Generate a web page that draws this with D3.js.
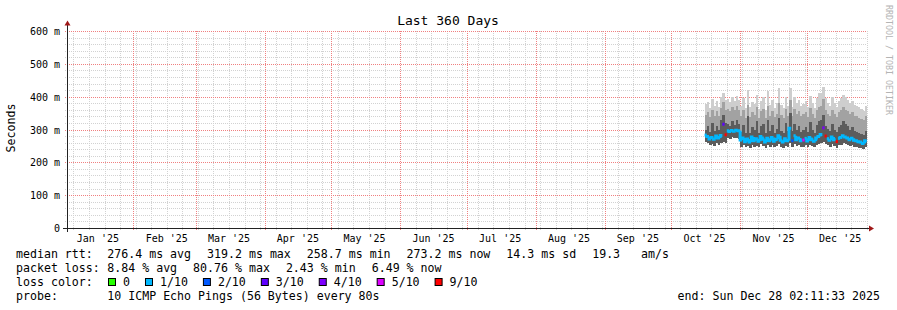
<!DOCTYPE html>
<html>
<head>
<meta charset="utf-8">
<script src="https://cdn.jsdelivr.net/npm/d3@7"></script>
<style>
body { margin: 0; background: #fff; }
text { font-family: 'DejaVu Sans Mono', monospace; fill: #000; white-space: pre; }
</style>
</head>
<body>
<script>
// ---- data ----
var firstDay = '2025-10-16';   // first day with samples, one value per day after that
var median = [283, 279, 271, 276, 270, 280, 274, 282,
    316, 284,
    296, 294, 297, 295, 298, 296,
    268, 274, 263, 271, 262, 277, 266, 272, 264, 279, 270, 262, 273, 266, 276, 264, 270, 281, 267, 262, 272, 266,
    304, 266,
    281, 269, 274, 266,
    268,
    273, 265, 276, 269, 264, 274, 279,
    285, 305, 280,
    272, 267, 277, 269,
    263,
    273, 276, 281, 277, 274, 269, 273, 267, 266, 263, 262, 257, 266];
var loss = [1, 1, 1, 1, 1, 1, 1, 1,
    3, 9,
    1, 1, 1, 1, 1, 1,
    1, 1, 1, 1, 1, 1, 1, 1, 1, 1, 1, 1, 1, 1, 1, 1, 1, 1, 1, 1, 1, 1,
    1, 2,
    1, 1, 1, 1,
    5,
    1, 1, 1, 1, 1, 1, 1,
    1, 4, 9,
    1, 1, 1, 1,
    9,
    1, 1, 1, 1, 1, 1, 1, 1, 1, 1, 1, 1, 1];
// smoke: lowest ping, 7th ping, 9th ping, highest ping (ms)
var pingLo = [262, 258, 252, 256, 250, 258, 254, 258,
    262, 258,
    274, 272, 276, 273, 275, 272,
    248, 252, 246, 250, 245, 254, 248, 251, 246, 255, 250, 245, 252, 248, 253, 246, 250, 256, 248, 245, 251, 247,
    258, 247,
    256, 250, 252, 248,
    248,
    252, 247, 254, 250, 246, 252, 256,
    260, 262, 256,
    252, 248, 255, 250,
    245,
    252, 254, 258, 256, 253, 250, 252, 248, 246, 244, 243, 240, 246];
var pingMid = [300, 310, 292, 320, 296, 312, 298, 330,
    345, 320,
    318, 312, 325, 315, 330, 318,
    292, 315, 288, 340, 290, 308, 300, 325, 288, 312, 318, 288, 330, 294, 315, 290, 302, 335, 296, 288, 320, 294,
    350, 294,
    318, 300, 312, 292,
    300,
    308, 292, 322, 300, 290, 315, 325,
    330, 345, 312,
    302, 294, 318, 300,
    292,
    308, 315, 325, 316, 310, 300, 308, 296, 292, 290, 286, 282, 296];
var pingUp = [345, 352, 338, 360, 342, 355, 340, 365,
    385, 360,
    362, 355, 368, 358, 372, 360,
    340, 358, 335, 375, 338, 352, 345, 368, 336, 355, 362, 334, 372, 342, 356, 338, 348, 380, 344, 336, 362, 342,
    390, 340,
    362, 348, 355, 340,
    346,
    352, 338, 365, 348, 336, 358, 368,
    372, 392, 358,
    348, 340, 360, 346,
    338,
    352, 358, 368, 360, 355, 346, 352, 342, 340, 336, 332, 328, 340];
var pingHi = [378, 385, 365, 392, 372, 388, 370, 398,
    410, 390,
    392, 385, 398, 388, 402, 390,
    372, 395, 365, 420, 368, 385, 378, 405, 362, 388, 398, 360, 418, 375, 390, 366, 380, 425, 376, 365, 398, 372,
    425, 370,
    400, 382, 390, 372,
    378,
    386, 368, 402, 380, 366, 395, 410,
    412, 430, 395,
    382, 372, 398, 380,
    370,
    388, 395, 405, 398, 390, 380, 388, 376, 372, 368, 362, 356, 372];

var lossLevels = [0, 1, 2, 3, 4, 5, 9];
var lossLabels = ['0', '1/10', '2/10', '3/10', '4/10', '5/10', '9/10'];
var lossColors = ['#26ff00', '#00b8ff', '#0059ff', '#5e00ff', '#7e00ff', '#dd00ff', '#ff0000'];
var smokeColors = ['#cecece', '#a2a2a2', '#5c5c5c'];

var monthLabels = ["Jan '25", "Feb '25", "Mar '25", "Apr '25", "May '25", "Jun '25",
    "Jul '25", "Aug '25", "Sep '25", "Oct '25", "Nov '25", "Dec '25"];
var yTicks = [0, 100, 200, 300, 400, 500, 600];
var yTickLabels = ['0', '100 m', '200 m', '300 m', '400 m', '500 m', '600 m'];

var rttItems = ['276.4 ms avg', '319.2 ms max', '258.7 ms min', '273.2 ms now', '14.3 ms sd', '19.3   am/s'];
var lossItems = ['8.84 % avg', '80.76 % max', '2.43 % min', '6.49 % now'];
var probeText = '10 ICMP Echo Pings (56 Bytes) every 80s';
var endText = 'end: Sun Dec 28 02:11:33 2025';
var titleText = 'Last 360 Days';

// ---- setup ----
var w = 897,
    h = 310;
var plotLeft = 67,
    plotRight = 867,
    plotTop = 31,
    plotBottom = 228;
var minorColor = '#d2d2d2',
    majorColor = '#f08080';

var svg = d3.select('body')
    .append('svg')
    .attr('width', w)
    .attr('height', h)
    .style('display', 'block');

svg.append('rect')
    .attr('width', w)
    .attr('height', h)
    .attr('fill', '#fff');

var tEnd = new Date(Date.UTC(2025, 11, 28, 2, 11, 33));
var tStart = new Date(tEnd.getTime() - 360 * 864e5);

var x = d3.scaleUtc()
    .domain([tStart, tEnd])
    .range([plotLeft, plotRight]);
var y = d3.scaleLinear()
    .domain([0, 600])
    .range([plotBottom, plotTop]);

var px = function(v) { return Math.round(v) + 0.5; };

// ---- grid ----
var grid = svg.append('g')
    .attr('stroke-dasharray', '1,1')
    .attr('shape-rendering', 'crispEdges');
var hLines = function(vals, color) {
    grid.append('g')
        .selectAll('line')
        .data(vals)
        .enter()
        .append('line')
        .attr('x1', plotLeft - 2)
        .attr('x2', plotRight)
        .attr('y1', function(d) { return px(y(d)); })
        .attr('y2', function(d) { return px(y(d)); })
        .attr('stroke', color);
};
var vLines = function(vals, color) {
    grid.append('g')
        .selectAll('line')
        .data(vals)
        .enter()
        .append('line')
        .attr('x1', function(d) { return px(x(d)); })
        .attr('x2', function(d) { return px(x(d)); })
        .attr('y1', plotTop)
        .attr('y2', plotBottom + 2)
        .attr('stroke', color);
};
var months = d3.utcMonth.range(tStart, tEnd);
hLines(d3.range(0, 601, 20).filter(function(v) { return v % 100; }), minorColor);
vLines(d3.utcSunday.range(tStart, tEnd), minorColor);
hLines(yTicks.slice(1), majorColor);
vLines(months, majorColor);

// ---- smoke ----
var day0 = new Date(firstDay + 'T00:00:00Z');
var dayX = function(i) { return x(d3.utcDay.offset(day0, i)); };
var smokeBands = [[pingLo, pingHi], [pingLo, pingUp], [pingLo, pingMid]];
var smoke = svg.append('g').attr('shape-rendering', 'crispEdges');
smokeBands.forEach(function(band, b) {
    smoke.append('g')
        .selectAll('rect')
        .data(median)
        .enter()
        .append('rect')
        .attr('x', function(d, i) { return dayX(i); })
        .attr('width', function(d, i) { return dayX(i + 1) - dayX(i) + 0.3; })
        .attr('y', function(d, i) { return y(band[1][i]); })
        .attr('height', function(d, i) { return y(band[0][i]) - y(band[1][i]); })
        .attr('fill', smokeColors[b]);
});

// ---- median, coloured by loss ----
var colorOf = function(l) { return lossColors[lossLevels.indexOf(l)]; };
var med = svg.append('g')
    .attr('fill', 'none')
    .attr('stroke-width', 3);
median.forEach(function(m, i) {
    var d = 'M' + dayX(i) + ',' + y(m) + 'H' + dayX(i + 1);
    if (i > 0 && loss[i - 1] === loss[i]) {
        d = 'M' + dayX(i) + ',' + y(median[i - 1]) + 'V' + y(m) + 'H' + dayX(i + 1);
    }
    med.append('path')
        .attr('d', d)
        .attr('stroke', colorOf(loss[i]));
});

// ---- axes ----
var axis = svg.append('g');
axis.append('line')
    .attr('x1', plotLeft - 4).attr('x2', plotRight + 3)
    .attr('y1', plotBottom + 0.5).attr('y2', plotBottom + 0.5)
    .attr('stroke', '#222');
axis.append('line')
    .attr('x1', plotLeft + 0.5).attr('x2', plotLeft + 0.5)
    .attr('y1', plotBottom + 4).attr('y2', plotTop - 6)
    .attr('stroke', '#222');
axis.append('path')
    .attr('d', 'M' + (plotLeft - 2.5) + ',' + (plotTop - 5.5) + 'L' + (plotLeft + 3.5) + ',' + (plotTop - 5.5) + 'L' + (plotLeft + 0.5) + ',' + (plotTop - 10.5) + 'Z')
    .attr('fill', '#a01818');
axis.append('path')
    .attr('d', 'M' + (plotRight + 2) + ',' + (plotBottom - 2.5) + 'L' + (plotRight + 2) + ',' + (plotBottom + 3.5) + 'L' + (plotRight + 7) + ',' + (plotBottom + 0.5) + 'Z')
    .attr('fill', '#a01818');

svg.append('g')
    .selectAll('text')
    .data(yTicks)
    .enter()
    .append('text')
    .attr('x', 60)
    .attr('y', function(d) { return px(y(d)) + 3.5; })
    .attr('text-anchor', 'end')
    .style('font-size', '10px')
    .text(function(d, i) { return yTickLabels[i]; });

// month labels sit in the middle of each month
var labelMonths = d3.utcMonth.range(new Date(Date.UTC(2025, 0, 1)), new Date(Date.UTC(2026, 0, 1)));
svg.append('g')
    .selectAll('text')
    .data(labelMonths)
    .enter()
    .append('text')
    .attr('x', function(d) { return x(d3.utcDay.offset(d, 15)); })
    .attr('y', 242)
    .attr('text-anchor', 'middle')
    .style('font-size', '10px')
    .text(function(d, i) { return monthLabels[i]; });

// ---- titles ----
svg.append('text')
    .attr('x', 448)
    .attr('y', 24.5)
    .attr('text-anchor', 'middle')
    .style('font-size', '13px')
    .text(titleText);
svg.append('text')
    .attr('transform', 'translate(14.5,128) rotate(-90)')
    .attr('text-anchor', 'middle')
    .style('font-size', '11.6px')
    .text('Seconds');
svg.append('text')
    .attr('transform', 'translate(885.5,5) rotate(90)')
    .style('font-size', '8.3px')
    .style('fill', '#b4b4b4')
    .text('RRDTOOL / TOBI OETIKER');

// ---- legend ----
var legendRow = function(label, items, yy) {
    svg.append('text')
        .attr('x', 16).attr('y', yy)
        .style('font-size', '11.6px')
        .text(label);
    var cx = 107.3;
    items.forEach(function(it) {
        var t = svg.append('text')
            .attr('x', cx).attr('y', yy)
            .style('font-size', '11.6px')
            .text(it);
        cx += t.node().getComputedTextLength() + 16;
    });
};
legendRow('median rtt:', rttItems, 258);
legendRow('packet loss:', lossItems, 272);

svg.append('text')
    .attr('x', 16).attr('y', 286)
    .style('font-size', '11.6px')
    .text('loss color:');
var bx = 108;
lossLabels.forEach(function(lab, i) {
    svg.append('rect')
        .attr('x', bx + 0.5).attr('y', 278.5)
        .attr('width', 7).attr('height', 7)
        .attr('fill', lossColors[i])
        .attr('stroke', '#000');
    var t = svg.append('text')
        .attr('x', bx + 15).attr('y', 286)
        .style('font-size', '11.6px')
        .text(lab);
    bx += 15 + t.node().getComputedTextLength() + 15;
});

legendRow('probe:', [probeText], 300);
svg.append('text')
    .attr('x', 880).attr('y', 300)
    .attr('text-anchor', 'end')
    .style('font-size', '11.6px')
    .text(endText);
</script>
</body>
</html>
